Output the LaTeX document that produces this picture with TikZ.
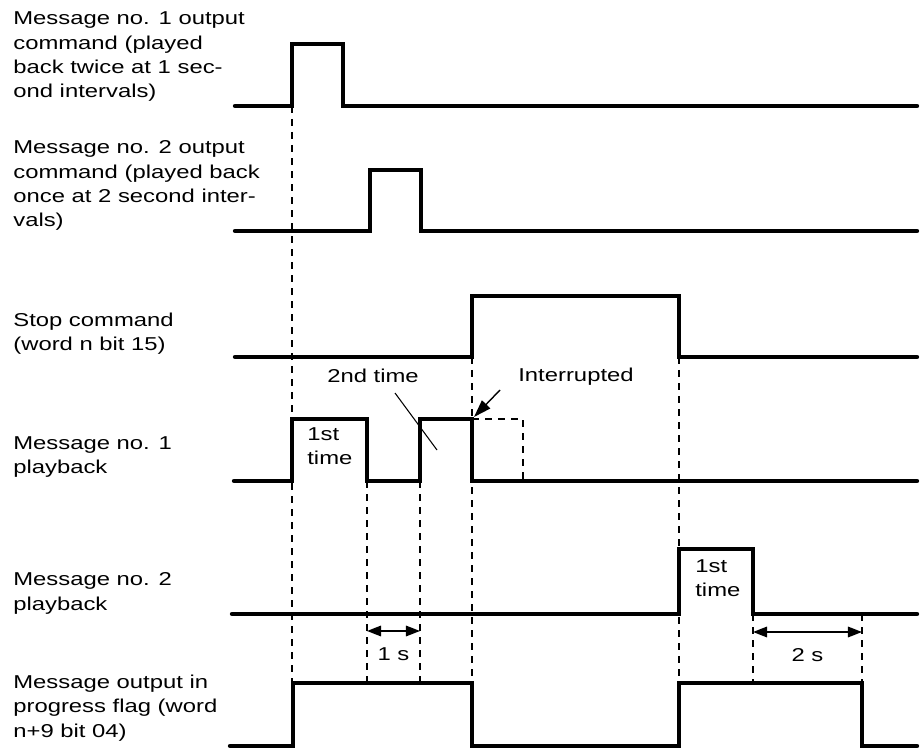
\documentclass[tikz,border=0pt]{standalone}
\usepackage{fontspec}
\setmainfont{Liberation Sans}[FakeStretch=1.28]
\usepackage{tikz}
\usetikzlibrary{arrows.meta, positioning}

\tikzset{
    sig/.style={line width=2.5pt, line cap=round, line join=miter},
    guide/.style={line width=0.7pt, dash pattern=on 4pt off 3.4pt},
    lbl/.style={anchor=base west, align=left, inner sep=0pt,
        font=\fontsize{10.6}{13.9}\selectfont},
    lead/.style={line width=0.6pt},
    span/.style={line width=0.9pt, {Triangle[length=8pt,width=6pt]}-{Triangle[length=8pt,width=6pt]}}
}

\begin{document}
\begin{tikzpicture}[x=0.02cm, y=-0.02cm]
    \useasboundingbox (0,0) rectangle (923,749);

    % Các nhãn tín hiệu bên trái (neo ở dòng cuối)
    \node[lbl] (cmdone) at (13,98) {Message no. 1 output\\command (played\\back twice at 1 sec-\\ond intervals)};
    \node[lbl] (cmdtwo) at (13,227) {Message no. 2 output\\command (played back\\once at 2 second inter-\\vals)};
    \node[lbl] (stop) at (13,351) {Stop command\\(word n bit 15)};
    \node[lbl] (playone) at (13,474) {Message no. 1\\playback};
    \node[lbl] (playtwo) at (13,610) {Message no. 2\\playback};
    \node[lbl] (flag) at (13,737) {Message output in\\progress flag (word\\n+9 bit 04)};

    % Các đường nét đứt dóng thời điểm
    \draw[guide] (292,106) -- (292,683);
    \draw[guide] (367,481) -- (367,683);
    \draw[guide] (420,481) -- (420,683);
    \draw[guide] (472,357) -- (472,683);
    \draw[guide] (679,357) -- (679,683);
    \draw[guide] (753,614) -- (753,683);
    \draw[guide] (862,614) -- (862,683);
    \draw[guide] (472,419) -- (523,419) -- (523,481);

    % Các dạng xung
    \draw[sig] (235,106) -- (292,106) -- (292,44) -- (343,44) -- (343,106) -- (917,106);
    \draw[sig] (235,231) -- (370,231) -- (370,170) -- (421,170) -- (421,231) -- (917,231);
    \draw[sig] (235,357) -- (472,357) -- (472,296) -- (679,296) -- (679,357) -- (917,357);
    \draw[sig] (234,481) -- (292,481) -- (292,419) -- (367,419) -- (367,481)
        -- (420,481) -- (420,419) -- (472,419) -- (472,481) -- (917,481);
    \draw[sig] (232,614) -- (679,614) -- (679,549) -- (753,549) -- (753,614) -- (917,614);
    \draw[sig] (230,746) -- (293,746) -- (293,683) -- (472,683) -- (472,746)
        -- (679,746) -- (679,683) -- (862,683) -- (862,746) -- (917,746);

    % Chú thích trên xung
    \node[lbl] (firstone) at (307,465) {1st\\time};
    \node[lbl] (firsttwo) at (695,597) {1st\\time};
    \node[lbl, anchor=base] (second) at (373,383) {2nd time};
    \node[lbl, anchor=base] (interrupt) at (576,382) {Interrupted};

    \coordinate (secA) at (395,393);
    \coordinate (secB) at (437,450);
    \draw[lead] (secA) -- (secB);
    \coordinate (intA) at (500,390);
    \coordinate (intB) at (474,417);
    \draw[lead, line width=0.8pt, -{Triangle[length=10pt,width=6.5pt]}] (intA) -- (intB);

    % Mũi tên khoảng thời gian
    \draw[span] (367,631) -- node[lbl, anchor=base, below=9pt] (onesec) {1 s} (420,631);
    \draw[span] (753,632) -- node[lbl, anchor=base, below=9pt] (twosec) {2 s} (862,632);

\end{tikzpicture}
\end{document}
